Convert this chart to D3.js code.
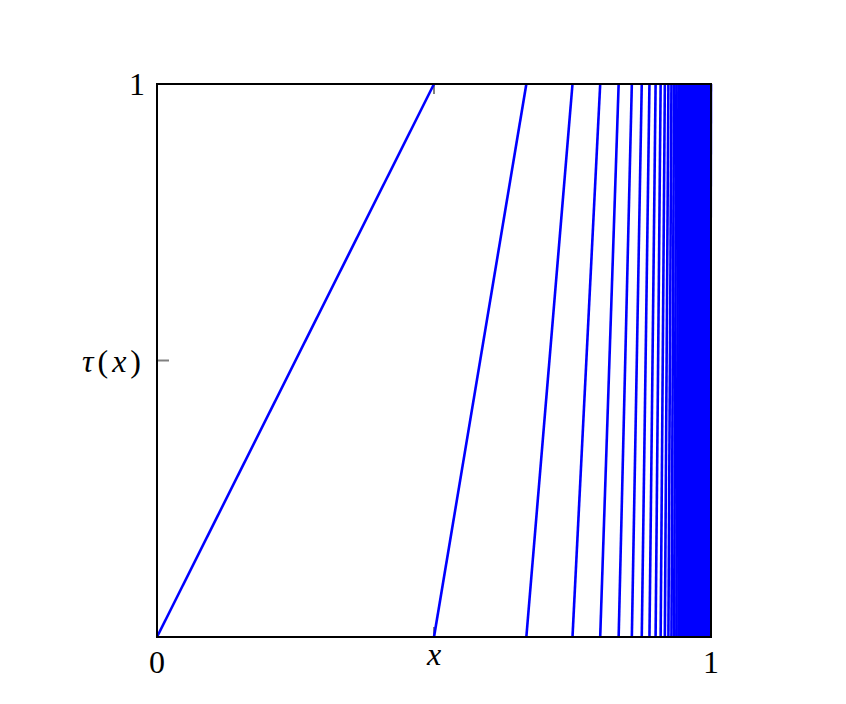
<!DOCTYPE html>
<html>
<head>
<meta charset="utf-8">
<script src="https://cdn.jsdelivr.net/npm/d3@7"></script>
<style>
  body { margin: 0; background: #fff; }
  text { font-family: "Liberation Serif", "DejaVu Serif", serif; fill: #000; }
</style>
</head>
<body>
<svg width="846" height="704"></svg>
<script>
var breakpoints = [0, 0.5, 0.6667, 0.75, 0.8, 0.8333, 0.8571, 0.875, 0.8889, 0.9,
    0.9091, 0.9167, 0.9231, 0.9286, 0.9333, 0.9375, 0.9412, 0.9444, 0.9474, 0.95,
    0.9524, 0.9545, 0.9565, 0.9583, 0.96, 0.9615, 0.963, 0.9643, 0.9655, 0.9667,
    0.968, 0.97, 0.972, 0.974, 0.976, 0.978, 0.98, 0.982, 0.984, 0.986,
    0.988, 0.99, 0.992, 0.994, 0.996, 0.998, 1.0];

var xTicks = [{v: 0, label: "0"}, {v: 0.5, label: "x"}, {v: 1, label: "1"}];
var yTicks = [{v: 0.5, label: "tau"}, {v: 1, label: "1"}];

var svg = d3.select("svg");

var x = d3.scaleLinear().domain([0, 1]).range([157, 711]);
var y = d3.scaleLinear().domain([0, 1]).range([637, 84]);

// segments: from (b_i, 0) up to (b_{i+1}, 1)
var segs = d3.pairs(breakpoints);

// gray ticks at the middle, inside the frame
var tickG = svg.append("g").attr("stroke", "#808080").attr("stroke-width", 2);
tickG.append("line").attr("x1", x(0.5)).attr("x2", x(0.5)).attr("y1", y(0)).attr("y2", y(0) - 10);
tickG.append("line").attr("x1", x(0.5)).attr("x2", x(0.5)).attr("y1", y(1)).attr("y2", y(1) + 10);
tickG.append("line").attr("x1", x(0)).attr("x2", x(0) + 12).attr("y1", y(0.5)).attr("y2", y(0.5));
tickG.append("line").attr("x1", x(1)).attr("x2", x(1) - 12).attr("y1", y(0.5)).attr("y2", y(0.5));

svg.append("g")
    .selectAll("line")
    .data(segs)
    .enter()
    .append("line")
    .attr("x1", function (d) { return x(d[0]); })
    .attr("y1", y(0))
    .attr("x2", function (d) { return x(d[1]); })
    .attr("y2", y(1))
    .attr("stroke", "#0000ff")
    .attr("stroke-width", 2.6);

svg.append("rect")
    .attr("x", x(0)).attr("y", y(1))
    .attr("width", x(1) - x(0)).attr("height", y(0) - y(1))
    .attr("fill", "none")
    .attr("stroke", "#000")
    .attr("stroke-width", 2);

// x labels
svg.selectAll(".xlab")
    .data(xTicks)
    .enter()
    .append("text")
    .attr("class", "xlab")
    .attr("x", function (d) { return x(d.v); })
    .attr("y", function (d) { return d.label == "x" ? 665 : 673; })
    .attr("text-anchor", "middle")
    .style("font-size", "32px")
    .style("font-style", function (d) { return d.label == "x" ? "italic" : "normal"; })
    .text(function (d) { return d.label; });

// y labels
yTicks.forEach(function (d) {
    var t = svg.append("text")
        .attr("x", 145)
        .attr("y", y(d.v) + 11)
        .attr("text-anchor", "end")
        .style("font-size", "32px");
    if (d.label == "tau") {
        t.style("letter-spacing", "4px");
        t.append("tspan").style("font-style", "italic").text("τ");
        t.append("tspan").text("(");
        t.append("tspan").style("font-style", "italic").text("x");
        t.append("tspan").text(")");
    } else {
        t.text(d.label);
    }
});
</script>
</body>
</html>
